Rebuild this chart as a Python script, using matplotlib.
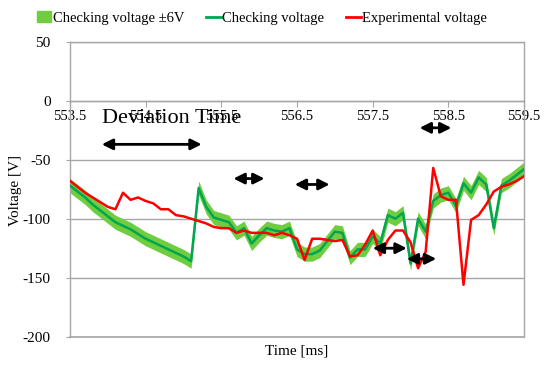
import numpy as np
import matplotlib.pyplot as plt
from matplotlib.patches import Patch
from matplotlib.lines import Line2D

plt.rcParams['font.family'] = ['Liberation Serif', 'DejaVu Serif']
plt.rcParams['axes.unicode_minus'] = False

# ---- DATA (sampled every 0.1 ms) ----
time_ms = [553.5, 553.6, 553.7, 553.8, 553.9, 554.0, 554.1, 554.2, 554.3, 554.4,
           554.5, 554.6, 554.7, 554.8, 554.9, 555.0, 555.1, 555.2, 555.3, 555.4,
           555.5, 555.6, 555.7, 555.8, 555.9, 556.0, 556.1, 556.2, 556.3, 556.4,
           556.5, 556.6, 556.7, 556.8, 556.9, 557.0, 557.1, 557.2, 557.3, 557.4,
           557.5, 557.6, 557.7, 557.8, 557.9, 558.0, 558.1, 558.2, 558.3, 558.4,
           558.5, 558.6, 558.7, 558.8, 558.9, 559.0, 559.1, 559.2, 559.3, 559.4,
           559.5]

checking_v = [-72, -77, -82, -88, -93, -98, -103, -106, -109, -113,
              -117, -120, -123, -126, -129, -132, -136, -74, -90, -99,
              -101, -103, -112, -108, -121, -114, -108, -110, -111, -108,
              -126, -130, -130, -127, -119, -111, -112, -133, -126, -126,
              -115, -121, -97, -100, -95, -138, -100, -111, -85, -80,
              -78, -89, -70, -78, -65, -71, -108, -72, -68, -63,
              -58]

experimental_v = [-68, -73, -78, -82, -86, -90, -92, -78, -84, -82,
                  -85, -87, -92, -92, -97, -98, -100, -102, -104, -107,
                  -108, -108, -112, -110, -112, -112, -112, -114, -112, -114,
                  -117, -135, -117, -117, -118, -119, -118, -132, -131, -122,
                  -110, -131, -118, -110, -110, -120, -142, -128, -57, -81,
                  -84, -84, -156, -101, -97, -88, -77, -73, -71, -68,
                  -64]

tolerance = 6  # +/- 6 V band

# deviation arrows: (start ms, end ms, voltage)
arrows = [(553.92, 555.24, -37),
          (555.66, 556.07, -66),
          (556.47, 556.93, -71),
          (558.12, 558.54, -23),
          (557.50, 557.95, -125),
          (557.95, 558.34, -134)]

band_color = "#70cd40"
line_green = "#00a650"
line_red = "#ff0000"
grid_gray = "#a6a6a6"

# ---- PLOT ----
fig = plt.figure(figsize=(5.5, 3.65), dpi=100)
ax = fig.add_axes([0.1273, 0.0775, 0.8255, 0.8083])

t = np.array(time_ms)
g = np.array(checking_v)
ax.fill_between(t, g - tolerance, g + tolerance, color=band_color, lw=0, zorder=2)
ax.plot(t, g, color=line_green, lw=1.8, zorder=3)
ax.plot(t, experimental_v, color=line_red, lw=1.8, zorder=4)

ax.set_xlim(553.5, 559.5)
ax.set_ylim(-200, 50)
ax.set_xticks([553.5, 554.5, 555.5, 556.5, 557.5, 558.5, 559.5])
ax.set_xticklabels(["553.5", "554.5", "555.5", "556.5", "557.5", "558.5", "559.5"])
ax.set_yticks([50, 0, -50, -100, -150, -200])
ax.set_yticklabels(["50", "0", "-50", "-100", "-150", "-200"])

ax.grid(True, axis="y", color=grid_gray, lw=1, zorder=0)
ax.set_axisbelow(True)
ax.spines["bottom"].set_position(("data", 0))
for s in ["left", "right", "bottom", "top"]:
    ax.spines[s].set_color(grid_gray)
    ax.spines[s].set_linewidth(1)
ax.axhline(-200, color=grid_gray, lw=1.2, clip_on=False, zorder=1)

ax.tick_params(axis="x", length=4, color=grid_gray, labelsize=10.5, pad=2.5)
ax.tick_params(axis="y", length=3, color=grid_gray, labelsize=11, pad=11)

# arrows and annotation
for x1, x2, yv in arrows:
    ax.annotate("", xy=(x2, yv), xytext=(x1, yv),
                arrowprops=dict(arrowstyle="<|-|>", color="black", lw=2,
                                mutation_scale=16, shrinkA=0, shrinkB=0),
                zorder=6)
ax.text(553.92, -15.5, "Deviation Time", fontsize=16, ha="left", va="center", zorder=6)

fig.text(0.54, 1 - 351 / 365, "Time [ms]", ha="center", va="center", fontsize=11)
fig.text(16 / 550, 1 - 190 / 365, "Voltage [V]", ha="center", va="center",
         rotation=90, fontsize=11)

handles = [Patch(color=band_color, label="Checking voltage \u00b16V"),
           Line2D([], [], color=line_green, lw=2, label="Checking voltage"),
           Line2D([], [], color=line_red, lw=2, label="Experimental voltage")]
fig.legend(handles=handles, loc="center", bbox_to_anchor=(0.476, 1 - 18 / 365),
           ncol=3, frameon=False, fontsize=10.5, handlelength=1.0, handletextpad=0.1,
           columnspacing=1.5, handleheight=0.8)

fig.savefig("out.png", dpi=100)
